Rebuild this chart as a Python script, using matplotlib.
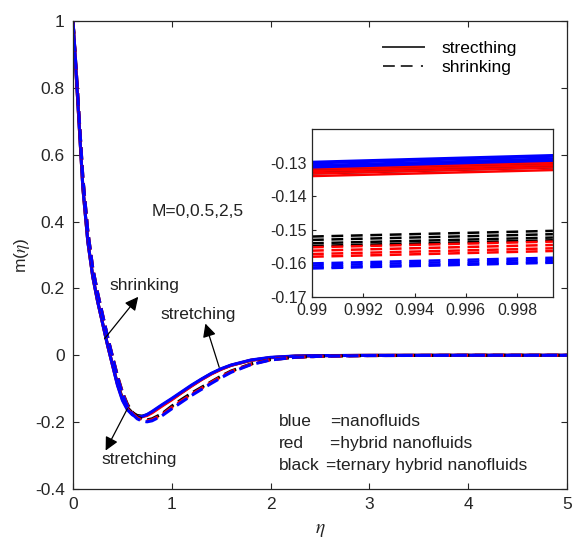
import matplotlib
matplotlib.use("Agg")
import matplotlib.pyplot as plt
from matplotlib.lines import Line2D

plt.rcParams['font.family'] = ['Liberation Sans', 'DejaVu Sans']
plt.rcParams['mathtext.fontset'] = 'stix'
plt.rcParams['lines.scale_dashes'] = False

# ---------------- data ----------------
eta = [0, 0.05, 0.1, 0.15, 0.2, 0.25, 0.3, 0.35, 0.4, 0.45, 0.5, 0.55, 0.6, 0.65,
       0.7, 0.75, 0.8, 0.9, 1.0, 1.1, 1.2, 1.3, 1.4, 1.5, 1.6, 1.8, 2.0, 2.25,
       2.5, 3.0, 4.0, 5.0]

# stretching (solid)
blue_stretch = [1.0, 0.75, 0.5, 0.34, 0.235, 0.16, 0.095, 0.03, -0.03, -0.09, -0.135,
                -0.163, -0.178, -0.184, -0.183, -0.177, -0.168, -0.148, -0.129, -0.109,
                -0.089, -0.071, -0.054, -0.04, -0.029, -0.014, -0.006, -0.002, -0.0008,
                -0.0002, 0, 0]
red_stretch = [1.0, 0.75, 0.5, 0.34, 0.235, 0.16, 0.095, 0.03, -0.03, -0.088, -0.132,
               -0.16, -0.176, -0.183, -0.184, -0.18, -0.172, -0.152, -0.133, -0.112,
               -0.092, -0.073, -0.056, -0.042, -0.03, -0.015, -0.007, -0.0025, -0.001,
               -0.0002, 0, 0]
black_stretch = [1.0, 0.75, 0.5, 0.34, 0.235, 0.16, 0.095, 0.03, -0.028, -0.085, -0.128,
                 -0.156, -0.172, -0.18, -0.182, -0.178, -0.17, -0.15, -0.131, -0.111,
                 -0.091, -0.072, -0.055, -0.041, -0.03, -0.015, -0.007, -0.0025, -0.001,
                 -0.0002, 0, 0]
# shrinking (dashed)
blue_shrink = [1.0, 0.77, 0.53, 0.37, 0.26, 0.185, 0.12, 0.055, -0.005, -0.065, -0.115,
               -0.152, -0.176, -0.19, -0.197, -0.199, -0.196, -0.181, -0.16, -0.14,
               -0.12, -0.102, -0.084, -0.067, -0.051, -0.028, -0.014, -0.006, -0.003,
               -0.0008, 0, 0]
red_shrink = [1.0, 0.77, 0.53, 0.37, 0.26, 0.185, 0.12, 0.055, -0.005, -0.063, -0.112,
              -0.149, -0.173, -0.187, -0.194, -0.196, -0.193, -0.178, -0.156, -0.136,
              -0.117, -0.099, -0.081, -0.064, -0.049, -0.027, -0.013, -0.006, -0.003,
              -0.0008, 0, 0]
black_shrink = [1.0, 0.77, 0.53, 0.37, 0.26, 0.185, 0.12, 0.055, -0.004, -0.061, -0.11,
                -0.146, -0.17, -0.184, -0.191, -0.193, -0.19, -0.175, -0.152, -0.132,
                -0.113, -0.096, -0.079, -0.062, -0.047, -0.026, -0.013, -0.006, -0.003,
                -0.0008, 0, 0]

# inset (zoom near eta = 1), one entry per M = 0, 0.5, 2, 5
inset_eta = [0.99, 0.9994]
blue_stretch_left = [-0.1298, -0.1302, -0.1308, -0.1314]
blue_stretch_right = [-0.1278, -0.1282, -0.1288, -0.1294]
red_stretch_left = [-0.1318, -0.1325, -0.1332, -0.1340]
red_stretch_right = [-0.1300, -0.1307, -0.1314, -0.1322]
black_stretch_left = [-0.1312, -0.1318, -0.1325, -0.1332]
black_stretch_right = [-0.1294, -0.1300, -0.1307, -0.1314]
black_shrink_left = [-0.1520, -0.1530, -0.1540, -0.1548]
black_shrink_right = [-0.1503, -0.1513, -0.1523, -0.1531]
red_shrink_left = [-0.1552, -0.1562, -0.1572, -0.1580]
red_shrink_right = [-0.1535, -0.1545, -0.1555, -0.1563]
blue_shrink_left = [-0.1600, -0.1606, -0.1612, -0.1615]
blue_shrink_right = [-0.1583, -0.1589, -0.1595, -0.1598]

main_xticks = [0, 1, 2, 3, 4, 5]
main_yticks = [-0.4, -0.2, 0, 0.2, 0.4, 0.6, 0.8, 1]
main_yticklabels = ['-0.4', '-0.2', '0', '0.2', '0.4', '0.6', '0.8', '1']
inset_xticks = [0.99, 0.992, 0.994, 0.996, 0.998]
inset_xticklabels = ['0.99', '0.992', '0.994', '0.996', '0.998']
inset_yticks = [-0.17, -0.16, -0.15, -0.14, -0.13]
inset_yticklabels = ['-0.17', '-0.16', '-0.15', '-0.14', '-0.13']

# ---------------- figure ----------------
AX_C = '#262626'
fig = plt.figure(figsize=(5.75, 5.46), dpi=100)
ax = fig.add_axes([0.127, 0.1044, 0.859, 0.857])

lw = 2.2
dash_main = (9, 4)
for col, ys in [('k', black_stretch), ('r', red_stretch), ('b', blue_stretch)]:
    ax.plot(eta, ys, color=col, lw=lw, solid_capstyle='butt')
for col, ys in [('k', black_shrink), ('r', red_shrink), ('b', blue_shrink)]:
    ax.plot(eta, ys, color=col, lw=lw, dashes=dash_main)

ax.set_xlim(0, 5)
ax.set_ylim(-0.4, 1)
ax.set_xticks(main_xticks)
ax.set_xticklabels([str(t) for t in main_xticks])
ax.set_yticks(main_yticks)
ax.set_yticklabels(main_yticklabels)
ax.tick_params(direction='in', length=4, width=0.8, top=True, right=True,
               labelsize=12.5, colors=AX_C, labelcolor=AX_C, pad=6)
for s in ax.spines.values():
    s.set_color(AX_C)
    s.set_linewidth(0.9)
ax.set_xlabel(r'$\eta$', fontsize=14, color=AX_C, labelpad=7)
ax.set_ylabel(r'm($\eta$)', fontsize=12.5, color=AX_C, labelpad=2)

# legend
handles = [Line2D([], [], color='#333333', lw=1.4),
           Line2D([], [], color='#333333', lw=1.4, dashes=(8.5, 4.3, 8.5, 6, 1.5, 10))]
ax.legend(handles, ['strecthing', 'shrinking'], loc='upper left',
          bbox_to_anchor=(0.628, 0.957), frameon=False, fontsize=12.5,
          handlelength=2.35, handletextpad=1.0, labelspacing=0.2, borderpad=0,
          borderaxespad=0)

# annotations
txt_kw = dict(fontsize=12.5, color='#222222', ha='center', va='center')
ax.text(1.26, 0.43, 'M=0,0.5,2,5', **txt_kw)
arr = dict(arrowstyle='-|>', color='k', lw=0.9, mutation_scale=20,
           shrinkA=0, shrinkB=0)
ax.annotate('', xy=(0.66, 0.175), xytext=(0.32, 0.05), arrowprops=arr)
ax.text(0.72, 0.21, 'shrinking', **txt_kw)
ax.annotate('', xy=(1.34, 0.095), xytext=(1.48, -0.036), arrowprops=arr)
ax.text(1.27, 0.122, 'stretching', **txt_kw)
ax.annotate('', xy=(0.33, -0.285), xytext=(0.55, -0.16), arrowprops=arr)
ax.text(0.67, -0.312, 'stretching', **txt_kw)

lab_kw = dict(fontsize=12.5, color='#222222', ha='left', va='center')
rows = [('blue', '=nanofluids', -0.199, 2.6), ('red', '=hybrid nanofluids', -0.265, 2.6),
        ('black', '=ternary hybrid nanofluids', -0.330, 2.56)]
for name, desc, yv, xd in rows:
    ax.text(2.085, yv, name, **lab_kw)
    ax.text(xd, yv, desc, **lab_kw)

# ---------------- inset ----------------
ins = fig.add_axes([0.5426, 0.456, 0.419, 0.3077])
ilw = 1.8
dash_ins = (8.5, 5.5)
for lefts, rights, col in [(black_stretch_left, black_stretch_right, 'k'),
                           (red_stretch_left, red_stretch_right, 'r'),
                           (blue_stretch_left, blue_stretch_right, 'b')]:
    for a, b in zip(lefts, rights):
        ins.plot(inset_eta, [a, b], color=col, lw=ilw)
for lefts, rights, col in [(black_shrink_left, black_shrink_right, 'k'),
                           (red_shrink_left, red_shrink_right, 'r'),
                           (blue_shrink_left, blue_shrink_right, 'b')]:
    for a, b in zip(lefts, rights):
        ins.plot(inset_eta, [a, b], color=col, lw=ilw, dashes=dash_ins)
ins.set_xlim(0.99, 0.9994)
ins.set_ylim(-0.17, -0.12)
ins.set_xticks(inset_xticks)
ins.set_xticklabels(inset_xticklabels)
ins.set_yticks(inset_yticks)
ins.set_yticklabels(inset_yticklabels)
ins.tick_params(direction='in', length=3, width=0.8, labelsize=11.5,
                colors=AX_C, labelcolor=AX_C, pad=4)
for s in ins.spines.values():
    s.set_color(AX_C)
    s.set_linewidth(0.9)

fig.savefig('out.png', dpi=100)
